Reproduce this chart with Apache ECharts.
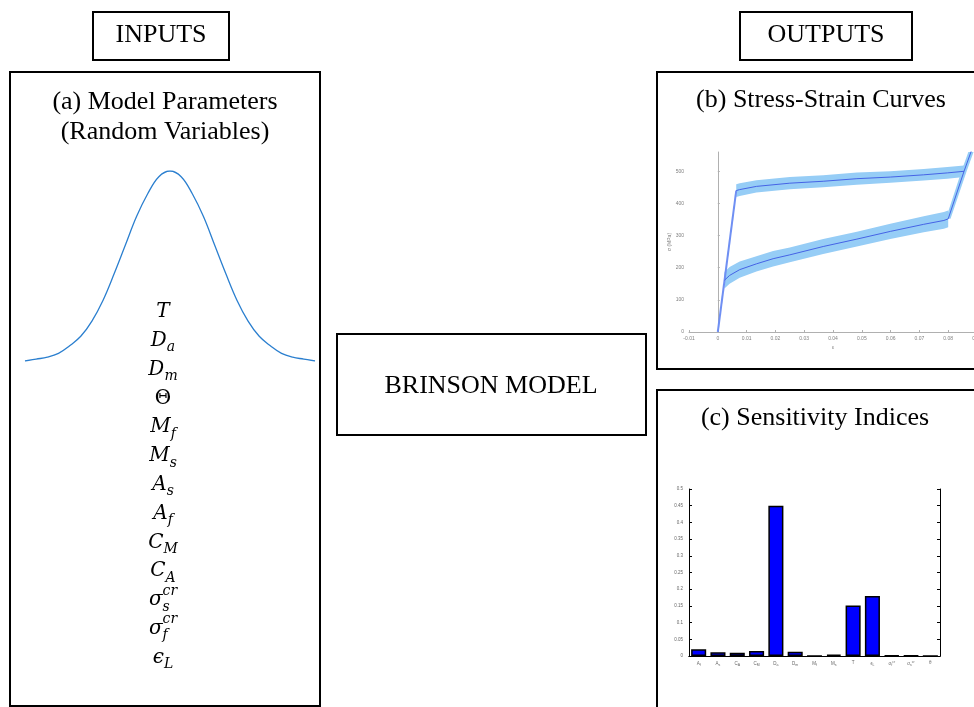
<!DOCTYPE html>
<html>
<head>
<meta charset="utf-8">
<script src="https://cdn.jsdelivr.net/npm/echarts@6/dist/echarts.min.js"></script>
<style>
  html, body { margin: 0; padding: 0; background: #fff; }
  #main { width: 974px; height: 707px; }
</style>
</head>
<body>
<div id="main"></div>
<script>
// ---- (a) bell curve (x in std units, height / peak)
var gaussX = [-3.25, -3, -2.75, -2.5, -2.25, -2, -1.75, -1.5, -1.25, -1, -0.75, -0.5, -0.25, 0,
              0.25, 0.5, 0.75, 1, 1.25, 1.5, 1.75, 2, 2.25, 2.5, 2.75, 3, 3.25]
var gaussY = [0, 0.01, 0.02, 0.04, 0.08, 0.13, 0.21, 0.32, 0.46, 0.61, 0.76, 0.88, 0.97, 1,
              0.97, 0.88, 0.76, 0.61, 0.46, 0.32, 0.21, 0.13, 0.08, 0.04, 0.02, 0.01, 0]

// parameter list (base, subscript, superscript)
var paramSymbols = [
  { b: 'T' }, { b: 'D', sub: 'a' }, { b: 'D', sub: 'm' }, { b: 'Θ', up: true },
  { b: 'M', sub: 'f' }, { b: 'M', sub: 's' }, { b: 'A', sub: 's' }, { b: 'A', sub: 'f' },
  { b: 'C', sub: 'M' }, { b: 'C', sub: 'A' }, { b: 'σ', sub: 's', sup: 'cr' },
  { b: 'σ', sub: 'f', sup: 'cr' }, { b: 'ϵ', sub: 'L' }
]

// ---- (b) stress-strain: mean curves and band half-widths
var loadStrain = [0, 0.0064]
var loadStress = [0, 440]
var upperStrain = [0.0064, 0.0076, 0.0134, 0.025, 0.0366, 0.0483, 0.0599, 0.0715, 0.0797, 0.0855]
var upperStress = [440, 443, 453, 463, 469, 477, 482, 489, 495, 500]
var upperBand = [20, 20, 19, 19, 19, 19, 18, 18, 18, 18]
var riseStrain = [0.0800, 0.0855, 0.0885]
var riseStress = [352, 500, 575]
var riseBand = [0.0008, 0.0009, 0.0009]
var lowerStrain = [0.0023, 0.0041, 0.0076, 0.0134, 0.0192, 0.025, 0.0366, 0.0483, 0.0599, 0.0715, 0.0785, 0.0800]
var lowerStress = [161, 176, 194, 212, 228, 240, 266, 289, 313, 335, 347, 352]
var lowerBand = [26, 26, 25, 24, 24, 23, 23, 23, 24, 25, 26, 26]
var strainTicks = { min: -0.01, max: 0.09, step: 0.01 }
var stressTicks = { min: 0, max: 560, step: 100 }

// ---- (c) sensitivity indices
var sensLabels = ['A_f', 'A_s', 'C_A', 'C_M', 'D_a', 'D_m', 'M_f', 'M_s', 'T', 'ϵ_L', 'σ_f^cr', 'σ_s^cr', 'θ']
var sensValues = [0.020, 0.011, 0.010, 0.015, 0.450, 0.013, 0.0005, 0.004, 0.151, 0.180, 0.002, 0.001, 0]

function zip(a, b) { return a.map(function (v, i) { return [v, b[i]] }) }

var serif = '"Liberation Serif", "Times New Roman", serif'
var mathFont = '"DejaVu Serif", serif'
var mctx = document.createElement('canvas').getContext('2d')
function textW(t, font) { mctx.font = font; return mctx.measureText(t).width }

function boxRect(x, y, w, h) {
  return { type: 'rect', shape: { x: x, y: y, width: w, height: h },
    style: { fill: 'none', stroke: '#000', lineWidth: 2 }, z: 10 }
}
function label(txt, x, y, size) {
  return { type: 'text', x: x, y: y, z: 10,
    style: { text: txt, font: size + 'px ' + serif, fill: '#000',
      align: 'center', verticalAlign: 'middle', textAlign: 'center', textVerticalAlign: 'middle' } }
}

var graphics = [
  boxRect(93, 12, 136, 48), label('INPUTS', 161, 35, 26),
  boxRect(740, 12, 172, 48), label('OUTPUTS', 826, 35, 26),
  boxRect(10, 72, 310, 634),
  label('(a) Model Parameters', 165, 102, 26), label('(Random Variables)', 165, 132, 26),
  boxRect(337, 334, 309, 101), label('BRINSON MODEL', 491, 386, 26),
  boxRect(657, 72, 330, 297), label('(b) Stress-Strain Curves', 821, 100, 26),
  boxRect(657, 390, 330, 330), label('(c) Sensitivity Indices', 815, 418, 26)
]

// stacked math symbols in the left panel
var baseSize = 20, subSize = 14
paramSymbols.forEach(function (s, i) {
  var yc = 312 + i * 28.8
  var bFont = (s.up ? '' : 'italic ') + baseSize + 'px ' + mathFont
  var sFont = 'italic ' + subSize + 'px ' + mathFont
  var wb = textW(s.b, bFont)
  var ws = Math.max(s.sub ? textW(s.sub, sFont) : 0, s.sup ? textW(s.sup, sFont) : 0)
  var left = 163 - (wb + ws) / 2
  var common = { fill: '#000', align: 'left', verticalAlign: 'middle', textAlign: 'left', textVerticalAlign: 'middle' }
  graphics.push({ type: 'text', x: left, y: yc, z: 10, style: Object.assign({ text: s.b, font: bFont }, common) })
  if (s.sub) graphics.push({ type: 'text', x: left + wb, y: yc + 7, z: 10, style: Object.assign({ text: s.sub, font: sFont }, common) })
  if (s.sup) graphics.push({ type: 'text', x: left + wb, y: yc - 9, z: 10, style: Object.assign({ text: s.sup, font: sFont }, common) })
})

// band polygons built from the mean curves
function bandY(xs, ys, hs) {
  var up = xs.map(function (x, i) { return [x, ys[i] + hs[i]] })
  var dn = xs.map(function (x, i) { return [x, ys[i] - hs[i]] }).reverse()
  return up.concat(dn)
}
function bandX(xs, ys, hs) {
  var l = xs.map(function (x, i) { return [x - hs[i], ys[i]] })
  var r = xs.map(function (x, i) { return [x + hs[i], ys[i]] }).reverse()
  return l.concat(r)
}
var bands = [
  bandY(upperStrain, upperStress, upperBand),
  bandY(lowerStrain, lowerStress, lowerBand),
  bandX(riseStrain, riseStress, riseBand)
]

function sensFmt(v) {
  var m = v.match(/^([^_^]+)(?:_([^^]+))?(?:\^(.+))?$/)
  var out = '{b|' + m[1] + '}'
  if (m[2]) out += '{s|' + m[2] + '}'
  if (m[3]) out += '{p|' + m[3] + '}'
  return out
}

var tiny = { fontSize: 5, color: '#808080', fontFamily: 'Arial, sans-serif' }
var grayLine = { lineStyle: { color: '#b0b0b0', width: 1 } }

var myChart = echarts.init(document.getElementById('main'), null, { renderer: 'canvas' })
var option = {
  animation: false,
  backgroundColor: '#fff',
  grid: [
    { left: 25, top: 171, width: 290, height: 190, outerBoundsMode: 'none', containLabel: false },
    { left: 689, top: 152, width: 288, height: 180, outerBoundsMode: 'none', containLabel: false },
    { left: 689, top: 489, width: 251, height: 167, outerBoundsMode: 'none', containLabel: false }
  ],
  xAxis: [
    { gridIndex: 0, type: 'value', min: -3.25, max: 3.25, show: false },
    {
      gridIndex: 1, type: 'value', min: strainTicks.min, max: strainTicks.max, interval: strainTicks.step,
      axisLine: grayLine, axisTick: { inside: true, length: 2, lineStyle: { color: '#b0b0b0' } },
      axisLabel: Object.assign({ margin: 4 }, tiny), splitLine: { show: false },
      name: 'ε', nameLocation: 'middle', nameGap: 13, nameTextStyle: tiny
    },
    {
      gridIndex: 2, type: 'category', data: sensLabels,
      axisLine: { lineStyle: { color: '#000', width: 1 } }, axisTick: { show: false },
      axisLabel: {
        interval: 0, margin: 4, formatter: sensFmt,
        rich: {
          b: { fontSize: 4.5, color: '#666' },
          s: { fontSize: 3.5, color: '#666', padding: [3, 0, 0, 0] },
          p: { fontSize: 3.5, color: '#666', padding: [0, 0, 3, 0] }
        }
      }
    },
    {
      gridIndex: 2, type: 'category', data: sensLabels, position: 'top',
      axisLine: { lineStyle: { color: '#000', width: 1 } },
      axisTick: { inside: true, length: 3, alignWithLabel: true, lineStyle: { color: '#000' } },
      axisLabel: { show: false }
    }
  ],
  yAxis: [
    { gridIndex: 0, type: 'value', min: 0, max: 1, show: false },
    {
      gridIndex: 1, type: 'value', min: stressTicks.min, max: stressTicks.max, interval: stressTicks.step,
      axisLine: Object.assign({ show: true }, grayLine),
      axisTick: { show: true, inside: true, length: 2, lineStyle: { color: '#b0b0b0' } },
      axisLabel: Object.assign({ margin: 5, showMaxLabel: false }, tiny), splitLine: { show: false },
      name: 'σ (MPa)', nameLocation: 'middle', nameRotate: 90, nameGap: 14, nameTextStyle: tiny
    },
    {
      gridIndex: 2, type: 'value', min: 0, max: 0.5, interval: 0.05,
      axisLine: { show: true, lineStyle: { color: '#000', width: 1 } },
      axisTick: { show: true, inside: true, length: 3, lineStyle: { color: '#000' } },
      axisLabel: { fontSize: 4.5, color: '#666', margin: 6 }, splitLine: { show: false }
    },
    {
      gridIndex: 2, type: 'value', min: 0, max: 0.5, interval: 0.05, position: 'right',
      axisLine: { show: true, lineStyle: { color: '#000', width: 1 } },
      axisTick: { show: true, inside: true, length: 3, lineStyle: { color: '#000' } },
      axisLabel: { show: false }, splitLine: { show: false }
    }
  ],
  series: [
    {
      type: 'line', xAxisIndex: 0, yAxisIndex: 0, smooth: 0.4, symbol: 'none',
      data: zip(gaussX, gaussY), lineStyle: { color: '#2b7fcf', width: 1.3 }
    },
    {
      type: 'custom', xAxisIndex: 1, yAxisIndex: 1, clip: true, silent: true,
      data: [[0, 0]],
      renderItem: function (params, api) {
        return {
          type: 'group',
          children: bands.map(function (poly) {
            return {
              type: 'polygon',
              shape: { points: poly.map(function (p) { return api.coord(p) }) },
              style: { fill: '#96cdf6', stroke: 'none' }
            }
          })
        }
      },
      z: 1
    },
    {
      type: 'line', xAxisIndex: 1, yAxisIndex: 1, symbol: 'none', z: 3,
      data: zip(loadStrain, loadStress), lineStyle: { color: '#6f8ff3', width: 2 }
    },
    {
      type: 'line', xAxisIndex: 1, yAxisIndex: 1, symbol: 'none', z: 3,
      data: zip(upperStrain, upperStress), lineStyle: { color: '#4563e6', width: 1 }
    },
    {
      type: 'line', xAxisIndex: 1, yAxisIndex: 1, symbol: 'none', z: 3,
      data: zip(riseStrain, riseStress), lineStyle: { color: '#4563e6', width: 1 }
    },
    {
      type: 'line', xAxisIndex: 1, yAxisIndex: 1, symbol: 'none', z: 3,
      data: zip(lowerStrain, lowerStress), lineStyle: { color: '#4563e6', width: 1 }
    },
    {
      type: 'bar', xAxisIndex: 2, yAxisIndex: 2, data: sensValues, barWidth: '78%',
      itemStyle: { color: '#0000ff', borderColor: '#000', borderWidth: 1.5 }
    }
  ],
  graphic: graphics
}
myChart.setOption(option)
</script>
</body>
</html>
